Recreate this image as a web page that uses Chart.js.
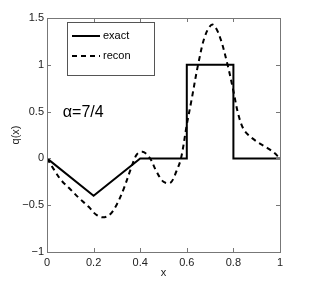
<!DOCTYPE html>
<html>
<head>
<meta charset="utf-8">
<script src="https://cdn.jsdelivr.net/npm/chart.js@4/dist/chart.umd.min.js"></script>
<style>
  html, body { margin: 0; padding: 0; background: #fff; }
  #wrap { width: 314px; height: 286px; }
</style>
</head>
<body>
<div id="wrap"><canvas id="chart"></canvas></div>
<script>
// exact profile (piecewise linear + box)
const exactX = [0, 0.2, 0.4, 0.6, 0.6, 0.8, 0.8, 1.0];
const exactY = [0, -0.4, 0, 0, 1, 1, 0, 0];

// reconstruction
const reconX = [0, 0.03, 0.06, 0.10, 0.14, 0.18, 0.21, 0.24, 0.27, 0.30, 0.33, 0.36, 0.385, 0.41, 0.44, 0.47, 0.50, 0.53, 0.555, 0.575, 0.60, 0.62, 0.65, 0.68, 0.71, 0.74, 0.775, 0.80, 0.82, 0.84, 0.86, 0.90, 0.94, 0.97, 1.0];
const reconY = [0, -0.12, -0.23, -0.33, -0.43, -0.52, -0.60, -0.63, -0.60, -0.49, -0.32, -0.11, 0.04, 0.07, 0.01, -0.14, -0.25, -0.26, -0.14, 0.0, 0.36, 0.62, 1.02, 1.32, 1.43, 1.31, 1.0, 0.72, 0.48, 0.33, 0.26, 0.18, 0.12, 0.07, 0];

const xTicks = [0, 0.2, 0.4, 0.6, 0.8, 1];
const yTicks = [-1, -0.5, 0, 0.5, 1, 1.5];
const seriesLabels = ['exact', 'recon'];
const annotationText = '\u03b1=7/4';

const toPoints = (xs, ys) => xs.map((x, i) => ({ x: x, y: ys[i] }));
const fmt = v => (v < 0 ? '\u2212' + Math.abs(v) : String(v));

const FONT = '"Liberation Sans", Arial, Helvetica, sans-serif';
const AXIS_COLOR = '#777';

// matlab style box with inward ticks, legend and text label
const matlabAxes = {
    id: 'matlabAxes',
    afterDatasetsDraw(chart) {
        const ctx = chart.ctx;
        const a = chart.chartArea;
        const xs = chart.scales.x;
        const ys = chart.scales.y;
        const tl = 4;

        ctx.save();
        ctx.strokeStyle = AXIS_COLOR;
        ctx.lineWidth = 1;
        ctx.strokeRect(Math.round(a.left) + 0.5, Math.round(a.top) + 0.5,
            Math.round(a.right - a.left), Math.round(a.bottom - a.top));

        ctx.beginPath();
        xTicks.forEach(v => {
            const px = Math.round(xs.getPixelForValue(v)) + 0.5;
            ctx.moveTo(px, a.bottom); ctx.lineTo(px, a.bottom - tl);
            ctx.moveTo(px, a.top); ctx.lineTo(px, a.top + tl);
        });
        yTicks.forEach(v => {
            const py = Math.round(ys.getPixelForValue(v)) + 0.5;
            ctx.moveTo(a.left, py); ctx.lineTo(a.left + tl, py);
            ctx.moveTo(a.right, py); ctx.lineTo(a.right - tl, py);
        });
        ctx.stroke();

        // legend box
        const lx = a.left + 20, ly = a.top + 4, lw = 87, lh = 53;
        ctx.fillStyle = '#fff';
        ctx.fillRect(lx, ly, lw, lh);
        ctx.strokeStyle = '#555';
        ctx.strokeRect(Math.round(lx) + 0.5, Math.round(ly) + 0.5, lw, lh);

        ctx.font = '11px ' + FONT;
        ctx.textBaseline = 'middle';
        ctx.textAlign = 'left';
        chart.data.datasets.forEach((ds, i) => {
            const ry = ly + 14 + i * 20;
            ctx.beginPath();
            ctx.strokeStyle = '#000';
            ctx.lineWidth = 2;
            ctx.setLineDash(ds.borderDash || []);
            ctx.moveTo(lx + 5, ry);
            ctx.lineTo(lx + 33, ry);
            ctx.stroke();
            ctx.setLineDash([]);
            ctx.fillStyle = '#000';
            ctx.fillText(ds.label, lx + 36, ry);
        });

        // alpha label
        ctx.font = '16px ' + FONT;
        ctx.textBaseline = 'alphabetic';
        ctx.fillStyle = '#000';
        ctx.fillText(annotationText, xs.getPixelForValue(0.068), ys.getPixelForValue(0.44));
        ctx.restore();
    }
};

new Chart(document.getElementById('chart'), {
    type: 'scatter',
    data: {
        datasets: [
            {
                label: seriesLabels[0],
                data: toPoints(exactX, exactY),
                showLine: true,
                borderColor: '#000',
                borderWidth: 2,
                pointRadius: 0,
                tension: 0
            },
            {
                label: seriesLabels[1],
                data: toPoints(reconX, reconY),
                showLine: true,
                borderColor: '#000',
                borderWidth: 2,
                borderDash: [5, 4],
                pointRadius: 0,
                tension: 0.35
            }
        ]
    },
    options: {
        responsive: true,
        maintainAspectRatio: false,
        animation: false,
        layout: { padding: { left: 0, right: 34, top: 18, bottom: 0 } },
        plugins: {
            legend: { display: false },
            tooltip: { enabled: false }
        },
        scales: {
            x: {
                type: 'linear',
                min: 0,
                max: 1,
                afterBuildTicks: s => { s.ticks = xTicks.map(v => ({ value: v })); },
                afterFit: s => { s.height = 34; },
                grid: { display: false, drawTicks: false, tickLength: 0 },
                border: { display: false },
                ticks: {
                    callback: v => fmt(v),
                    color: '#222',
                    padding: 4,
                    maxRotation: 0,
                    font: { family: FONT, size: 11 }
                },
                title: {
                    display: true,
                    text: 'x',
                    color: '#222',
                    padding: { top: 0, bottom: 6 },
                    font: { family: FONT, size: 11 }
                }
            },
            y: {
                type: 'linear',
                min: -1,
                max: 1.5,
                afterBuildTicks: s => { s.ticks = yTicks.map(v => ({ value: v })); },
                afterFit: s => { s.width = 47; },
                grid: { display: false, drawTicks: false, tickLength: 0 },
                border: { display: false },
                ticks: {
                    callback: v => fmt(v),
                    color: '#222',
                    padding: 3,
                    font: { family: FONT, size: 11 }
                },
                title: {
                    display: true,
                    text: 'q(x)',
                    color: '#222',
                    padding: { top: 9, bottom: 0 },
                    font: { family: FONT, size: 11 }
                }
            }
        }
    },
    plugins: [matlabAxes]
});
</script>
</body>
</html>
